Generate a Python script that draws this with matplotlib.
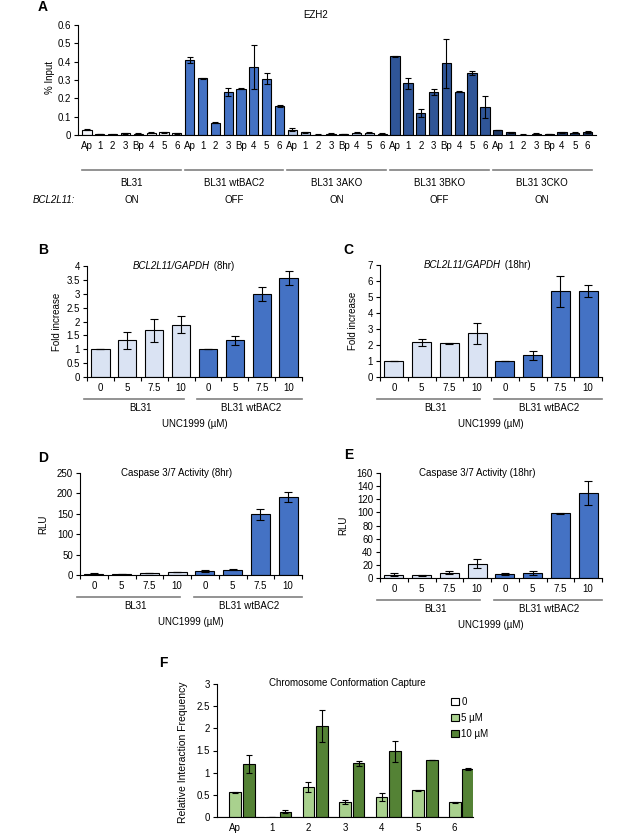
import matplotlib
matplotlib.use('Agg')
import matplotlib.pyplot as plt
from matplotlib.ticker import FuncFormatter, MultipleLocator
import numpy as np

plt.rcParams['font.family'] = ['Liberation Sans', 'DejaVu Sans']
plt.rcParams['font.size'] = 7

W, H = 617, 833

# ---- Panel A: EZH2 ChIP (% input) ----
sites = ['Ap', '1', '2', '3', 'Bp', '4', '5', '6']
lines_a = ['BL31', 'BL31 wtBAC2', 'BL31 3AKO', 'BL31 3BKO', 'BL31 3CKO']
bcl_state = ['ON', 'OFF', 'ON', 'OFF', 'ON']
ezh2_bl31 = [0.030, 0.005, 0.003, 0.010, 0.008, 0.012, 0.014, 0.010]
ezh2_bl31_err = [0.002, 0.002, 0.001, 0.002, 0.002, 0.002, 0.003, 0.003]
ezh2_wtbac2 = [0.409, 0.310, 0.068, 0.235, 0.252, 0.369, 0.308, 0.157]
ezh2_wtbac2_err = [0.017, 0.003, 0.002, 0.024, 0.003, 0.120, 0.030, 0.005]
ezh2_3ako = [0.028, 0.015, 0.002, 0.008, 0.006, 0.012, 0.013, 0.008]
ezh2_3ako_err = [0.008, 0.002, 0.001, 0.002, 0.002, 0.002, 0.002, 0.002]
ezh2_3bko = [0.430, 0.282, 0.120, 0.235, 0.390, 0.237, 0.337, 0.152]
ezh2_3bko_err = [0.002, 0.030, 0.020, 0.017, 0.135, 0.003, 0.010, 0.058]
ezh2_3cko = [0.027, 0.015, 0.002, 0.008, 0.006, 0.016, 0.013, 0.016]
ezh2_3cko_err = [0.002, 0.002, 0.001, 0.002, 0.002, 0.003, 0.002, 0.004]
colors_a = ['#f4f6fb', '#4472c4', '#b4c7e7', '#2f5597', '#1f3864']

# ---- Panels B-E: UNC1999 dose response ----
doses = ['0', '5', '7.5', '10']
lines_be = ['BL31', 'BL31 wtBAC2']
fold8_bl31 = [1.0, 1.32, 1.68, 1.88]
fold8_bl31_err = [0, 0.30, 0.42, 0.31]
fold8_bac2 = [1.0, 1.32, 2.99, 3.58]
fold8_bac2_err = [0, 0.15, 0.25, 0.25]
fold18_bl31 = [1.0, 2.16, 2.10, 2.72]
fold18_bl31_err = [0, 0.20, 0.03, 0.66]
fold18_bac2 = [1.0, 1.37, 5.35, 5.37]
fold18_bac2_err = [0, 0.28, 0.95, 0.37]
casp8_bl31 = [3, 3, 5, 7]
casp8_bl31_err = [1, 0.5, 0.5, 0.5]
casp8_bac2 = [10, 13, 149, 191]
casp8_bac2_err = [1.5, 1, 13, 12]
casp18_bl31 = [5, 4, 8, 22]
casp18_bl31_err = [2, 0.5, 2.5, 7]
casp18_bac2 = [6, 7, 98.5, 130]
casp18_bac2_err = [2, 3, 0.5, 18]
color_light = '#dae3f3'
color_dark = '#4472c4'

# ---- Panel F: 3C ----
loci = ['Ap', '1', '2', '3', '4', '5', '6']
f_series = ['0', '5 µM', '10 µM']
ric_0 = [0, 0, 0, 0, 0, 0, 0]
ric_5 = [0.56, 0, 0.67, 0.34, 0.45, 0.60, 0.33]
ric_5_err = [0.01, 0, 0.11, 0.04, 0.10, 0.01, 0.01]
ric_10 = [1.19, 0.12, 2.05, 1.21, 1.48, 1.29, 1.08]
ric_10_err = [0.20, 0.04, 0.36, 0.06, 0.23, 0.005, 0.02]
colors_f = ['white', '#a9d18e', '#548235']

fmt = FuncFormatter(lambda v, p: '%g' % round(v, 3))


def make_axes(fig, l, t, r, b):
    ax = fig.add_axes([l / W, 1 - b / H, (r - l) / W, (b - t) / H])
    for s in ['top', 'right']:
        ax.spines[s].set_visible(False)
    for s in ['left', 'bottom']:
        ax.spines[s].set_linewidth(0.8)
    ax.tick_params(axis='y', direction='out', length=3, width=0.8, labelsize=7, pad=2)
    ax.tick_params(axis='x', which='major', length=0, labelsize=7, pad=4)
    ax.yaxis.set_major_formatter(fmt)
    ax.hpx = b - t
    return ax


def under(ax, px):
    # axes-fraction y for a point px pixels below the x axis
    return -px / ax.hpx


def ftext(x, y, s, **kw):
    fig.text(x / W, 1 - y / H, s, **kw)


bar_kw = dict(edgecolor='black', linewidth=0.8, zorder=2)
err_kw = dict(elinewidth=0.8, capthick=0.8, ecolor='black')

fig = plt.figure(figsize=(W / 100, H / 100), dpi=100)

# ================= A =================
axA = make_axes(fig, 78, 25, 596, 135)
groups = [(ezh2_bl31, ezh2_bl31_err), (ezh2_wtbac2, ezh2_wtbac2_err),
          (ezh2_3ako, ezh2_3ako_err), (ezh2_3bko, ezh2_3bko_err),
          (ezh2_3cko, ezh2_3cko_err)]
n = len(sites)
for g, (vals, errs) in enumerate(groups):
    x = np.arange(n) + g * n
    axA.bar(x, vals, width=0.72, color=colors_a[g], yerr=errs, capsize=2.5,
            error_kw=err_kw, **bar_kw)
axA.set_xticks(np.arange(n * len(groups)))
axA.set_xticklabels(sites * len(groups))
axA.set_xlim(-0.7, n * len(groups) - 0.35)
axA.set_ylim(0, 0.6)
axA.yaxis.set_major_locator(MultipleLocator(0.1))
trA = axA.get_xaxis_transform()
for g, name in enumerate(lines_a):
    axA.plot([g * n - 0.4, g * n + 7.3], [under(axA, 35)] * 2, color='#808080',
             lw=1.2, transform=trA, clip_on=False)
    axA.text(g * n + 3.45, under(axA, 48), name, transform=trA, ha='center', va='center')
    axA.text(g * n + 3.45, under(axA, 65), bcl_state[g], transform=trA, ha='center', va='center')
ftext(33, 200, 'BCL2L11:', style='italic', va='center', ha='left')
ftext(316, 15, 'EZH2', ha='center', va='center')
ftext(50, 77, '% Input', rotation=90, ha='center', va='center')
ftext(43, 7, 'A', fontsize=10, fontweight='bold', ha='center', va='center')


# ================= B-E =================
def dose_panel(box, bl31, bl31_err, bac2, bac2_err, ymax, step, ylab, ylab_x,
               letter, letter_xy, title_xy, title_parts):
    ax = make_axes(fig, *box)
    x1 = np.arange(4)
    x2 = np.arange(4) + 4
    ax.bar(x1, bl31, width=0.68, color=color_light, yerr=bl31_err, capsize=3,
           error_kw=err_kw, **bar_kw)
    ax.bar(x2, bac2, width=0.68, color=color_dark, yerr=bac2_err, capsize=3,
           error_kw=err_kw, **bar_kw)
    ax.set_xticks(np.arange(8))
    ax.set_xticklabels(doses * 2)
    ax.set_xticks(np.arange(9) - 0.5, minor=True)
    ax.tick_params(axis='x', which='minor', direction='out', length=3, width=0.8)
    ax.set_xlim(-0.5, 7.5)
    ax.set_ylim(0, ymax)
    ax.yaxis.set_major_locator(MultipleLocator(step))
    tr = ax.get_xaxis_transform()
    for (a, b_), cx, name in [((-0.6, 3.1), 1.5, lines_be[0]), ((3.6, 7.5), 5.6, lines_be[1])]:
        ax.plot([a, b_], [under(ax, 22)] * 2, color='#808080', lw=1.2,
                transform=tr, clip_on=False)
        ax.text(cx, under(ax, 31), name, transform=tr, ha='center', va='center')
    ax.text(3.5, under(ax, 47), 'UNC1999 (µM)', transform=tr, ha='center', va='center')
    top = box[1]
    ftext(ylab_x, (box[1] + box[3]) / 2, ylab, rotation=90, ha='center', va='center')
    ftext(letter_xy[0], letter_xy[1], letter, fontsize=10, fontweight='bold',
          ha='center', va='center')
    if len(title_parts) == 2:
        ftext(title_xy[0], top, title_parts[0], style='italic', ha='right', va='center')
        ftext(title_xy[0] + 1, top, title_parts[1], ha='left', va='center')
    else:
        ftext(title_xy[0], top, title_parts[0], ha='center', va='center')
    return ax


dose_panel((87, 266, 302, 377), fold8_bl31, fold8_bl31_err, fold8_bac2, fold8_bac2_err,
           4, 0.5, 'Fold increase', 57, 'B', (43, 250), (210, 266),
           ['BCL2L11/GAPDH', ' (8hr)'])
dose_panel((380, 265, 602, 377), fold18_bl31, fold18_bl31_err, fold18_bac2, fold18_bac2_err,
           7, 1, 'Fold increase', 353, 'C', (348, 250), (501, 265),
           ['BCL2L11/GAPDH', ' (18hr)'])
dose_panel((80, 473, 302, 575), casp8_bl31, casp8_bl31_err, casp8_bac2, casp8_bac2_err,
           250, 50, 'RLU', 43, 'D', (43, 458), (177, 473),
           ['Caspase 3/7 Activity (8hr)'])
dose_panel((380, 473, 602, 578), casp18_bl31, casp18_bl31_err, casp18_bac2, casp18_bac2_err,
           160, 20, 'RLU', 343, 'E', (349, 455), (477, 473),
           ['Caspase 3/7 Activity (18hr)'])

# ================= F =================
axF = make_axes(fig, 217, 684, 473, 817)
xf = np.arange(len(loci))
off = 0.37
wf = 0.32
axF.bar(xf - off, ric_0, width=wf, color=colors_f[0], label=f_series[0], **bar_kw)
axF.bar(xf, ric_5, width=wf, color=colors_f[1], yerr=ric_5_err, capsize=2.5,
        error_kw=err_kw, label=f_series[1], **bar_kw)
axF.bar(xf + off, ric_10, width=wf, color=colors_f[2], yerr=ric_10_err, capsize=2.5,
        error_kw=err_kw, label=f_series[2], **bar_kw)
axF.set_xticks(xf)
axF.set_xticklabels(loci)
axF.set_xlim(-0.5, len(loci) - 0.5)
axF.set_ylim(0, 3)
axF.yaxis.set_major_locator(MultipleLocator(0.5))
axF.legend(loc='upper left', bbox_to_anchor=(0.9, 0.93), frameon=False, fontsize=7,
           handlelength=0.75, handleheight=0.75, handletextpad=0.3, labelspacing=0.6,
           borderaxespad=0)
ftext(347, 683, 'Chromosome Conformation Capture', ha='center', va='center')
ftext(183, 752, 'Relative Interaction Frequency', rotation=90, ha='center', va='center',
      fontsize=7.5)
ftext(163, 663, 'F', fontsize=10, fontweight='bold', ha='center', va='center')

fig.savefig('out.png', dpi=100, facecolor='white')
